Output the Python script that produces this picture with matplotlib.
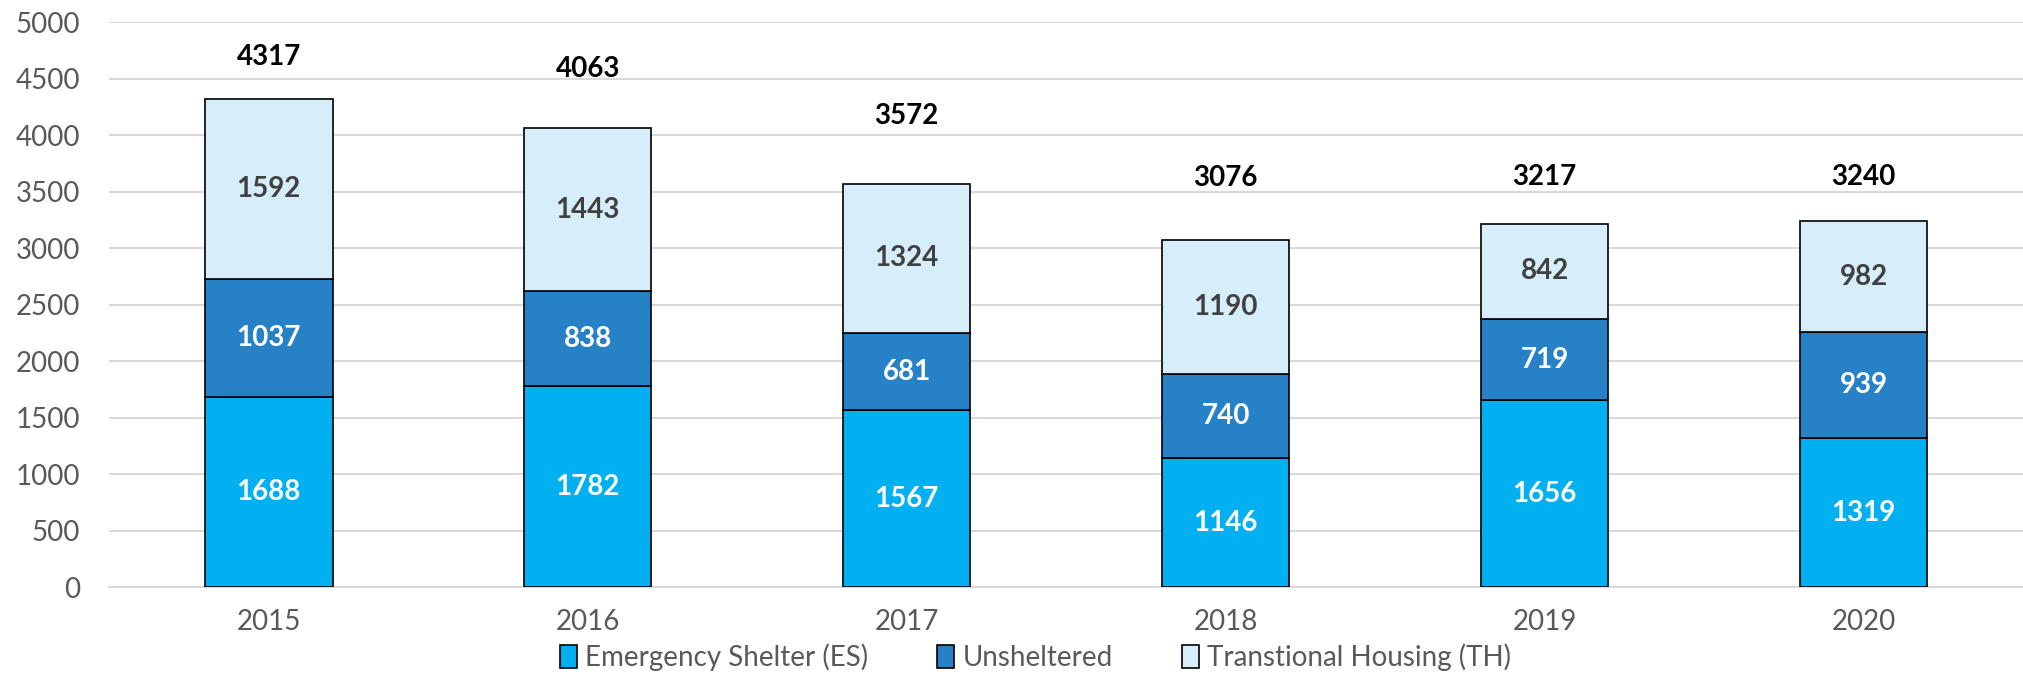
import numpy as np
import matplotlib.pyplot as plt

plt.rcParams['font.family'] = ['Lato', 'DejaVu Sans']

years = ['2015', '2016', '2017', '2018', '2019', '2020']
emergency = [1688, 1782, 1567, 1146, 1656, 1319]
unsheltered = [1037, 838, 681, 740, 719, 939]
transitional = [1592, 1443, 1324, 1190, 842, 982]
totals = [4317, 4063, 3572, 3076, 3217, 3240]
# heights where the total labels sit
total_label_y = [4690, 4590, 4170, 3620, 3630, 3630]

c_es = '#00B0F0'
c_un = '#2781C6'
c_th = '#D5EEF9'

fig = plt.figure(figsize=(20.23, 6.75), dpi=100)
ax = fig.add_axes([0.054, 0.130, 0.946, 0.837])

x = np.arange(len(years))
es = np.array(emergency)
un = np.array(unsheltered)
th = np.array(transitional)
w = 0.4
kw = dict(width=w, edgecolor='black', linewidth=1.2, zorder=3)
ax.bar(x, es, color=c_es, label='Emergency Shelter (ES)', **kw)
ax.bar(x, un, bottom=es, color=c_un, label='Unsheltered', **kw)
ax.bar(x, th, bottom=es + un, color=c_th, label='Transtional Housing (TH)', **kw)

fs = 20
for i in range(len(years)):
    ax.text(x[i], es[i] / 2, str(es[i]), ha='center', va='center',
            color='white', fontsize=fs, fontweight='bold', zorder=4)
    ax.text(x[i], es[i] + un[i] / 2, str(un[i]), ha='center', va='center',
            color='white', fontsize=fs, fontweight='bold', zorder=4)
    ax.text(x[i], es[i] + un[i] + th[i] / 2, str(th[i]), ha='center', va='center',
            color='#404040', fontsize=fs, fontweight='bold', zorder=4)
    ax.text(x[i], total_label_y[i], str(totals[i]), ha='center', va='center',
            color='black', fontsize=fs, fontweight='bold', zorder=4)

ax.set_xlim(-0.5, 5.5)
ax.set_ylim(0, 5000)
ax.set_yticks(np.arange(0, 5001, 500))
ax.set_xticks(x)
ax.set_xticklabels(years)
ax.yaxis.grid(True, color='#D9D9D9', linewidth=1.5, zorder=0)
ax.set_axisbelow(True)
for s in ['top', 'right', 'left']:
    ax.spines[s].set_visible(False)
ax.spines['bottom'].set_color('#D9D9D9')
ax.spines['bottom'].set_linewidth(1.5)
ax.tick_params(axis='both', length=0, labelsize=20, colors='#595959')
ax.tick_params(axis='y', pad=21)
ax.tick_params(axis='x', pad=16)

leg = ax.legend(loc='upper center', bbox_to_anchor=(0.484, -0.1), ncol=3,
                frameon=False, fontsize=20, handlelength=0.6, handleheight=0.9,
                handletextpad=0.3, columnspacing=2.5, borderpad=0.0,
                borderaxespad=0.0)
for t in leg.get_texts():
    t.set_color('#595959')

fig.savefig('out.png', dpi=100)
